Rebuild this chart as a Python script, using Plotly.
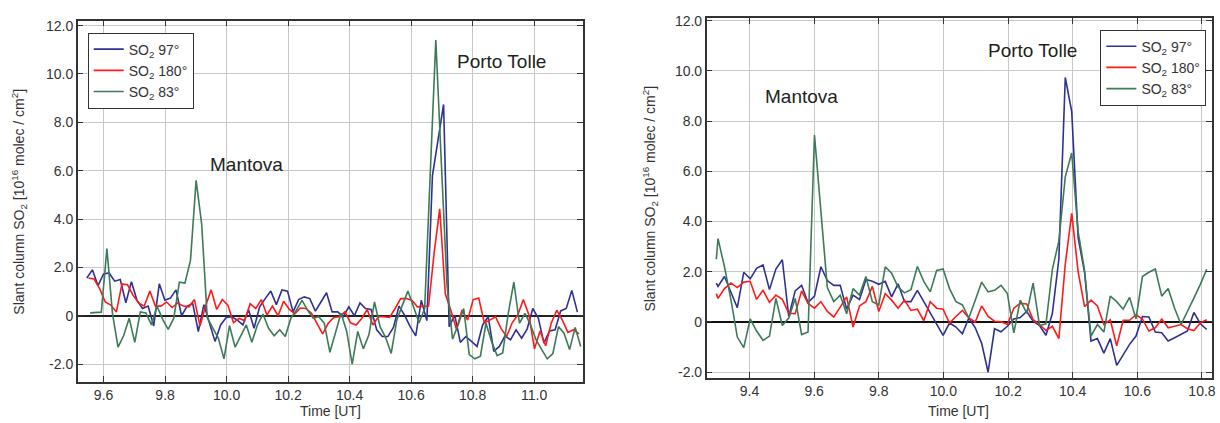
import numpy as np
import plotly.graph_objects as go

# ---------------- data : left panel ----------------
L_T0_97, L_T0_180, L_T0_83, L_DT = 9.5455, 9.5510, 9.5564, 0.018125
L_SO2_97 = [1.56, 1.9, 1.25, 1.73, 1.77, 1.43, 1.5, 0.54, 1.41, 0.64, 0.3, 0.4, -0.42, 1.32, 0.64, 0.73,
            1.07, 0.0, 0.4, 0.5, -0.65, 0.46, -0.3, -1.06, -0.38, -0.07, -0.04, -0.18, -0.38, 0.26, -0.52,
            0.37, 0.71, 1.02, 0.46, 1.07, 1.02, 0.16, 0.67, 0.78, 0.71, 0.19, 0.57, 0.95, 0.16, 0.16, -0.04,
            0.37, 0.0, 0.53, 0.3, 0.26, -0.58, -0.86, -0.86, -0.48, 0.4, 0.03, -0.45, -0.83, 0.64, -0.2,
            5.8, 7.3, 8.74, -0.45, 0.03, -1.1, -0.86, -1.06, -1.27, -0.38, -0.04, -1.47, -1.27, -0.83, -1.0,
            -0.58, -0.93, -0.54, 0.3, -0.1, -1.13, -0.63, -0.58, 0.2, 0.3, 1.05, 0.15]
L_SO2_180 = [1.56, 1.52, 1.12, 0.57, 0.44, 0.16, 1.32, 1.28, 0.84, 0.53, 0.4, 1.02, 0.4, 0.4, 0.57, 0.34,
             0.53, 0.4, 0.37, 0.67, -0.42, 0.4, 1.07, 0.26, 0.67, 0.44, -0.29, -0.11, -0.2, 0.5, 0.3,
             0.67, 0.03, 0.4, 0.0, 0.6, 0.27, 0.08, 0.32, 0.3, 0.1, -0.34, -0.75, -0.31, -0.07, -0.04,
             0.16, -0.29, -0.38, -0.11, 0.26, -0.38, -0.04, -0.04, -0.07, 0.3, 0.71, 0.71, 0.64, 0.37,
             0.4, 0.4, 2.6, 4.42, 0.91, 0.23, -0.56, 0.23, -0.18, 0.67, 0.73, -0.29, -0.18, -0.04, -0.52,
             -0.86, -0.29, 0.03, 0.67, 0.03, -1.37, -0.63, -1.24, -0.31, 0.23, -0.18, -0.69, -0.58, -0.75]
L_SO2_83 = [0.12, 0.13, 0.15, 2.78, 0.1, -1.3, -0.83, -0.1, -1.1, 0.16, 0.12, -0.38, 0.4, -0.15, -0.56,
            -0.1, 1.39, 1.35, 2.3, 5.6, 3.8, -0.08, -0.52, -0.93, -1.78, -0.41, -1.3, -0.86, -0.38, -1.1,
            -0.38, 0.07, -0.52, -0.83, -0.58, -0.86, -0.1, 0.23, 0.64, 0.23, -0.1, -0.04, -0.31, -1.51,
            -0.65, 0.1, -0.63, -2.0, -0.65, -1.37, -0.79, 0.57, -0.45, -0.9, -1.56, -0.18, 0.44, 1.02,
            0.37, -0.29, 0.3, 5.9, 11.4, 6.3, 1.3, -0.97, -0.38, 0.3, -1.61, -1.78, -1.67, -0.31, -1.06,
            -1.65, -1.54, 0.1, 1.39, -0.31, 0.1, -0.38, -1.0, -1.4, -1.78, -1.56, -0.45, -0.72, -1.4,
            -0.48, -1.27]

# ---------------- data : right panel ----------------
R_T_FIRST, R_T0, R_DT = 9.2974, 9.3026, 0.019896
R_SO2_97 = [1.55, 1.42, 1.81, 1.15, 0.57, 1.98, 1.72, 2.14, 2.27, 1.29, 2.11, 2.48, 0.22, 1.24, 1.46, 0.77,
            1.03, 2.2, 1.65, 1.46, 1.46, 0.51, 1.07, 0.9, 1.69, 1.62, 1.5, 1.62, 1.0, 1.52, 0.81, 0.81,
            1.26, 0.81, 0.35, -0.1, -0.53, -0.04, -0.2, -0.47, 0.16, -0.23, -0.85, -2.0, -0.27, -0.39,
            -0.17, 0.12, 0.18, 0.42, 0.03, -0.14, -0.53, 0.35, 2.5, 9.74, 8.39, 3.35, 1.98, -0.76, -0.66,
            -1.24, -0.66, -1.73, -1.28, -0.89, -0.56, 0.22, 0.2, -0.4, -0.43, -0.76, -0.63, -0.5, -0.36,
            0.38, -0.07, -0.3]
R_SO2_180 = [1.13, 0.94, 1.33, 1.55, 1.37, 1.59, 1.62, 0.9, 1.26, 0.78, 1.07, 0.9, 0.35, 0.33, 1.24, 0.74,
             0.55, 0.81, 0.42, 0.2, 0.59, 1.0, -0.2, 0.64, 0.81, 1.42, 0.42, 1.13, 0.87, 0.55, 0.87, 0.46,
             0.51, 0.05, 0.81, 0.55, 0.51, -0.04, 0.22, 0.46, 0.16, 0.0, 0.64, 0.22, 0.03, 0.01, -0.1,
             0.55, 0.74, 0.72, 0.09, -0.1, -0.34, -0.17, -0.66, 2.3, 4.33, 2.0, 0.61, 0.87, 0.64, -0.1,
             0.09, -0.95, 0.07, 0.07, 0.29, 0.12, -0.36, -0.23, 0.12, -0.23, -0.17, -0.1, -0.27, -0.34,
             -0.04, 0.09]
R_SO2_83 = [2.5, 3.32, 2.2, 0.9, -0.6, -1.02, 0.12, -0.36, -0.73, -0.56, 0.94, -0.14, 0.16, 0.94, -0.5,
            -0.4, 7.45, 4.3, 1.37, 0.81, 1.07, 0.33, 1.33, 1.07, 1.81, 0.81, 0.68, 2.2, 1.94, 1.39, 1.16,
            1.29, 2.21, 1.62, 1.2, 2.05, 2.11, 1.33, 0.81, 0.68, 0.16, 0.87, 1.59, 1.2, 1.26, 1.46, 1.13,
            -0.43, 0.87, 0.35, 1.55, -0.14, -0.07, 2.11, 3.22, 5.78, 6.73, 3.6, 2.05, -0.56, -0.1, -0.4,
            1.03, 0.81, 0.51, 0.98, 0.12, 1.81, 1.98, 2.11, 1.03, 1.33, 0.55, -0.1, 0.4, 0.95, 1.5, 2.1]

SERIES_NAMES = ["SO<sub>2</sub> 97°", "SO<sub>2</sub> 180°", "SO<sub>2</sub> 83°"]
SERIES_COLORS = ["#2e3192", "#ff1a1a", "#3d7a57"]

Y_TICKS = [-2, 0, 2, 4, 6, 8, 10, 12]
Y_TICKTEXT = ["-2.0", "0", "2.0", "4.0", "6.0", "8.0", "10.0", "12.0"]
L_X_TICKS = [9.6, 9.8, 10.0, 10.2, 10.4, 10.6, 10.8, 11.0]
R_X_TICKS = [9.4, 9.6, 9.8, 10.0, 10.2, 10.4, 10.6, 10.8]

# ---------------- build ----------------
W, H = 1220, 423


def px(x):
    return x / W


def py(y):
    return 1 - y / H


def times(t0, n):
    return t0 + L_DT * np.arange(n)


left_x = [times(L_T0_97, len(L_SO2_97)), times(L_T0_180, len(L_SO2_180)), times(L_T0_83, len(L_SO2_83))]
left_y = [L_SO2_97, L_SO2_180, L_SO2_83]


def rtimes(n):
    return np.concatenate([[R_T_FIRST], R_T0 + R_DT * np.arange(n - 1)])


right_x = [rtimes(len(R_SO2_97)), rtimes(len(R_SO2_180)), rtimes(len(R_SO2_83))]
right_y = [R_SO2_97, R_SO2_180, R_SO2_83]

fig = go.Figure()
for i in range(3):
    fig.add_trace(go.Scatter(x=left_x[i], y=left_y[i], mode="lines", name=SERIES_NAMES[i],
                             line=dict(color=SERIES_COLORS[i], width=1.6),
                             xaxis="x", yaxis="y", legend="legend"))
for i in range(3):
    fig.add_trace(go.Scatter(x=right_x[i], y=right_y[i], mode="lines", name=SERIES_NAMES[i],
                             line=dict(color=SERIES_COLORS[i], width=1.6),
                             xaxis="x2", yaxis="y2", legend="legend2"))

FONT = "Liberation Sans"
TICKFONT = dict(family=FONT, size=14, color="#333333")
common_axis = dict(showline=True, linecolor="#333333", linewidth=1.5, mirror="ticks",
                   ticks="inside", ticklen=6, tickcolor="#333333", tickwidth=1.2,
                   showgrid=True, gridcolor="#c8c8c8", gridwidth=1.3, tickfont=TICKFONT)

fig.update_layout(
    width=W, height=H, margin=dict(l=0, r=0, t=0, b=0),
    paper_bgcolor="white", plot_bgcolor="white",
    font=dict(family=FONT, color="#231f20"),
    xaxis=dict(domain=[px(78), px(585)], range=[9.516, 11.159], anchor="y",
               tickvals=L_X_TICKS, ticktext=[f"{v:.1f}" for v in L_X_TICKS],
               zeroline=False, **common_axis),
    yaxis=dict(domain=[py(383), py(16)], range=[-2.726, 12.203], anchor="x",
               tickvals=Y_TICKS, ticktext=Y_TICKTEXT,
               zeroline=True, zerolinecolor="#222222", zerolinewidth=1.8, **common_axis),
    xaxis2=dict(domain=[px(709), px(1216)], range=[9.2675, 10.831], anchor="y2",
                tickvals=R_X_TICKS, ticktext=[f"{v:.1f}" for v in R_X_TICKS],
                zeroline=False, **common_axis),
    yaxis2=dict(domain=[py(379), py(13)], range=[-2.22, 12.118], anchor="x2",
                tickvals=Y_TICKS, ticktext=Y_TICKTEXT,
                zeroline=True, zerolinecolor="#111111", zerolinewidth=1.5, **common_axis),
    legend=dict(x=px(88), y=py(28), xanchor="left", yanchor="top",
                bordercolor="#333333", borderwidth=1, bgcolor="white",
                font=dict(family=FONT, size=14, color="#333333"), itemwidth=30),
    legend2=dict(x=px(1104), y=py(25), xanchor="left", yanchor="top",
                 bordercolor="#333333", borderwidth=1, bgcolor="white",
                 font=dict(family=FONT, size=14, color="#333333"), itemwidth=30),
)

ytitle = "Slant column SO<sub>2</sub> [10<sup>16</sup> molec / cm<sup>2</sup>]"
ann = [
    dict(x=px(19), y=py(200), text=ytitle, textangle=-90, font=dict(size=14, color="#333333")),
    dict(x=px(652), y=py(197), text=ytitle, textangle=-90, font=dict(size=14, color="#333333")),
    dict(x=px(332), y=py(413), text="Time [UT]", font=dict(size=14, color="#333333")),
    dict(x=px(962), y=py(413), text="Time [UT]", font=dict(size=14, color="#333333")),
    dict(x=px(247.5), y=py(162), text="Mantova", font=dict(size=19)),
    dict(x=px(503), y=py(57), text="Porto Tolle", font=dict(size=19)),
    dict(x=px(804), y=py(93), text="Mantova", font=dict(size=19)),
    dict(x=px(1035.5), y=py(46), text="Porto Tolle", font=dict(size=19)),
]
for a in ann:
    fig.add_annotation(xref="paper", yref="paper", showarrow=False,
                       xanchor="center", yanchor="middle", **a)

fig.write_html("out.html", config={"displayModeBar": False},
               post_script="document.body.style.margin='0';document.body.style.overflow='hidden';")
